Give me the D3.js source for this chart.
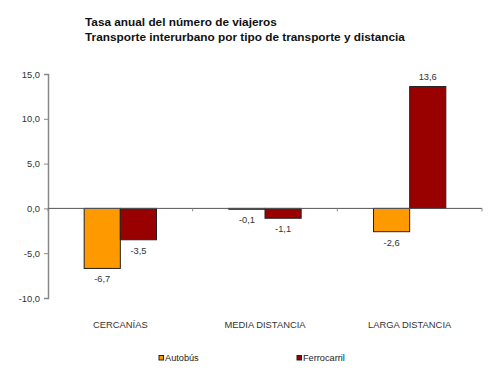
<!DOCTYPE html>
<html><head><meta charset="utf-8">
<script src="https://cdn.jsdelivr.net/npm/d3@7"></script>
<style>body{margin:0;background:#fff;}svg{display:block;font-family:"Liberation Sans",Arial,sans-serif;}</style>
</head><body>
<svg id="c" width="500" height="379"></svg>
<script>
const categories = ["CERCANÍAS", "MEDIA DISTANCIA", "LARGA DISTANCIA"];
const seriesNames = ["Autobús", "Ferrocarril"];
const autobus = [-6.7, -0.1, -2.6];
const ferrocarril = [-3.5, -1.1, 13.6];
const yTicks = [-10, -5, 0, 5, 10, 15];
const colors = ["#FF9900", "#990000"];
const titleLines = ["Tasa anual del número de viajeros", "Transporte interurbano por tipo de transporte y distancia"];

const svg = d3.select("#c");
const mLeft = 48, mRight = 482, mTop = 74, mBottom = 298;
const fmt = v => v.toFixed(1).replace(".", ",");

svg.selectAll("text.title").data(titleLines).enter().append("text")
  .attr("x", 85).attr("y", (d,i) => 26 + i*15)
  .attr("font-size", 11.8).attr("font-weight", "bold").attr("fill", "#111")
  .text(d => d);

const y = d3.scaleLinear().domain([-10, 15]).range([mBottom, mTop]);
const x0 = d3.scaleBand().domain(categories).range([mLeft, mRight]);
const x1 = d3.scaleBand().domain(seriesNames).range([0, x0.bandwidth()]).paddingOuter(1);

// y axis
const yAxis = d3.axisLeft(y).tickValues(yTicks).tickFormat(fmt).tickSize(4);
const gy = svg.append("g").attr("transform", `translate(${mLeft},0)`).call(yAxis);
gy.select(".domain").attr("stroke", "#888").attr("stroke-width", 1.5);
gy.selectAll(".tick line").attr("stroke", "#888");
gy.selectAll(".tick text").attr("font-size", 9.4).attr("fill", "#333").attr("x", -8).attr("font-family", "Liberation Sans, Arial, sans-serif");

// bars
const data = categories.map((c, i) => ({cat: c, vals: [autobus[i], ferrocarril[i]]}));
const groups = svg.selectAll("g.grp").data(data).enter().append("g")
  .attr("transform", d => `translate(${x0(d.cat)},0)`);
groups.selectAll("rect").data(d => d.vals.map((v, j) => ({v, s: seriesNames[j], j}))).enter().append("rect")
  .attr("x", d => x1(d.s)).attr("width", x1.bandwidth())
  .attr("y", d => y(Math.max(0, d.v))).attr("height", d => Math.abs(y(d.v) - y(0)))
  .attr("fill", d => colors[d.j]).attr("stroke", "#222").attr("stroke-width", 1);
groups.selectAll("text").data(d => d.vals.map((v, j) => ({v, s: seriesNames[j], j}))).enter().append("text")
  .attr("x", d => x1(d.s) + x1.bandwidth()/2)
  .attr("y", d => d.v >= 0 ? y(d.v) - 6.5 : y(d.v) + 14)
  .attr("text-anchor", "middle").attr("font-size", 9.3).attr("fill", "#333")
  .text(d => fmt(d.v));

// x axis (zero line)
const gx = svg.append("g").attr("transform", `translate(0,${y(0)})`);
gx.append("line").attr("x1", mLeft).attr("x2", mRight).attr("stroke", "#555").attr("stroke-width", 1);
gx.selectAll("line.t").data(categories.map(c => x0(c)).concat([mRight])).enter().append("line")
  .attr("x1", d => d).attr("x2", d => d).attr("y1", 0).attr("y2", 3).attr("stroke", "#888");

// category labels
svg.selectAll("text.cat").data(categories).enter().append("text")
  .attr("x", d => x0(d) + x0.bandwidth()/2).attr("y", 328)
  .attr("text-anchor", "middle").attr("font-size", 9.4).attr("fill", "#333").text(d => d);

// legend
const legX = [159, 297];
const leg = svg.selectAll("g.leg").data(seriesNames).enter().append("g")
  .attr("transform", (d,i) => `translate(${legX[i]},358)`);
leg.append("rect").attr("x", 0).attr("y", -2.5).attr("width", 4.5).attr("height", 4.5)
  .attr("fill", (d,i) => colors[i]).attr("stroke", "#222").attr("stroke-width", 1);
leg.append("text").attr("x", 6).attr("y", 3.3).attr("font-size", 9.2).attr("fill", "#222").text(d => d);
</script>
</body></html>
